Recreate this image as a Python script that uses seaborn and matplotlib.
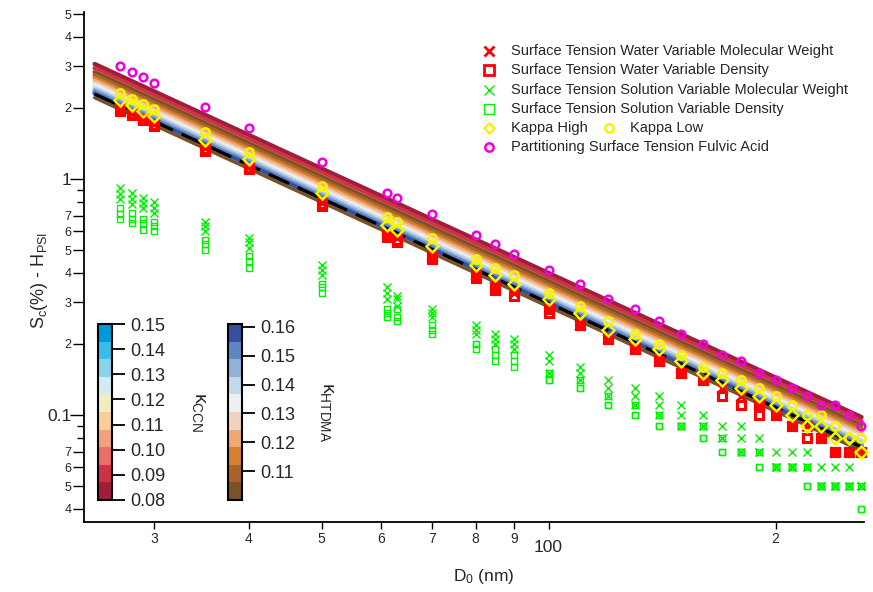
import numpy as np
import pandas as pd
import seaborn as sns
import matplotlib
matplotlib.use("Agg")
import matplotlib.pyplot as plt
from matplotlib.colors import ListedColormap, BoundaryNorm
import matplotlib.cm as cm

# ---------------- data ----------------
D = [27, 28, 29, 30, 35, 40, 50, 61, 63, 70, 80, 85, 90, 100, 110, 120, 130, 140,
     150, 160, 170, 180, 190, 200, 210, 220, 230, 240, 250, 260]

red_x = [1.98, 1.90, 1.81, 1.71, 1.35, 1.12, 0.79, 0.58, 0.56, 0.47, 0.39, 0.35, 0.33,
         0.28, 0.24, 0.21, 0.19, 0.17, 0.15, 0.14, 0.13, 0.12, 0.11, 0.10, 0.09, 0.09,
         0.08, 0.07, 0.07, 0.07]
red_sq_a = [1.97, 1.89, 1.80, 1.70, 1.34, 1.11, 0.78, 0.58, 0.55, 0.47, 0.39, 0.35, 0.32,
            0.28, 0.24, 0.21, 0.19, 0.17, 0.15, 0.14, 0.12, 0.11, 0.11, 0.10, 0.09, 0.08,
            0.08, 0.07, 0.07, 0.07]
red_sq_b = [1.94, 1.86, 1.77, 1.68, 1.32, 1.10, 0.77, 0.57, 0.54, 0.46, 0.38, 0.34, 0.32,
            0.27, 0.24, 0.21, 0.19, 0.17, 0.15, 0.14, 0.12, 0.11, 0.10, 0.10, 0.09, 0.08,
            0.08, 0.07, 0.07, 0.07]

green_x1 = [0.92, 0.87, 0.83, 0.80, 0.66, 0.56, 0.43, 0.35, 0.32, 0.28, 0.24, 0.22, 0.21,
            0.18, 0.16, 0.14, 0.13, 0.12, 0.11, 0.10, 0.09, 0.09, 0.08, 0.07, 0.07, 0.07,
            0.06, 0.06, 0.06, 0.05]
green_x2 = [0.86, 0.82, 0.79, 0.75, 0.63, 0.54, 0.41, 0.33, 0.31, 0.27, 0.23, 0.21, 0.20,
            0.17, 0.15, 0.13, 0.12, 0.11, 0.10, 0.09, 0.08, 0.08, 0.07, 0.06, 0.06, 0.06,
            0.05, 0.05, 0.05, 0.05]
green_x3 = [0.82, 0.78, 0.75, 0.72, 0.60, 0.51, 0.39, 0.31, 0.29, 0.26, 0.22, 0.20, 0.19,
            0.15, 0.14, 0.12, 0.11, 0.10, 0.09, 0.09, 0.08, 0.07, 0.07, 0.06, 0.06, 0.06,
            0.05, 0.05, 0.05, 0.05]
green_sq1 = [0.75, 0.72, 0.68, 0.66, 0.55, 0.47, 0.36, 0.28, 0.28, 0.24, 0.20, 0.19, 0.18,
             0.15, 0.14, 0.12, 0.11, 0.10, 0.09, 0.09, 0.08, 0.07, 0.07, 0.06, 0.06, 0.06,
             0.05, 0.05, 0.05, 0.05]
green_sq2 = [0.71, 0.68, 0.65, 0.63, 0.53, 0.45, 0.35, 0.27, 0.26, 0.23, 0.20, 0.18, 0.17,
             0.14, 0.13, 0.11, 0.10, 0.09, 0.09, 0.08, 0.07, 0.07, 0.06, 0.06, 0.06, 0.05,
             0.05, 0.05, 0.05, 0.04]
green_sq3 = [0.68, 0.65, 0.61, 0.60, 0.50, 0.42, 0.33, 0.26, 0.25, 0.22, 0.19, 0.17, 0.16,
             0.14, 0.13, 0.11, 0.10, 0.09, 0.09, 0.08, 0.07, 0.07, 0.06, 0.06, 0.06, 0.05,
             0.05, 0.05, 0.05, 0.04]

kappa_low = [2.31, 2.18, 2.08, 1.98, 1.58, 1.30, 0.93, 0.69, 0.66, 0.56, 0.46, 0.42, 0.39,
             0.33, 0.29, 0.25, 0.22, 0.20, 0.18, 0.16, 0.15, 0.14, 0.13, 0.12, 0.11, 0.10,
             0.10, 0.09, 0.08, 0.08]
kappa_high = [2.16, 2.06, 1.94, 1.85, 1.46, 1.22, 0.87, 0.64, 0.61, 0.52, 0.43, 0.39, 0.36,
              0.31, 0.27, 0.23, 0.21, 0.19, 0.17, 0.15, 0.14, 0.13, 0.12, 0.11, 0.10, 0.09,
              0.09, 0.08, 0.08, 0.07]
partitioning = [3.02, 2.84, 2.71, 2.55, 2.02, 1.64, 1.18, 0.87, 0.83, 0.71, 0.58, 0.53, 0.48,
                0.41, 0.36, 0.31, 0.28, 0.25, 0.22, 0.20, 0.18, 0.17, 0.15, 0.14, 0.13, 0.12,
                0.11, 0.11, 0.10, 0.09]

# theoretical kappa lines: Sc at the two ends of the diameter range
line_D = [25, 260]
ccn_start = [3.070, 2.949, 2.841, 2.744, 2.656, 2.577, 2.504, 2.437, 2.375, 2.317]
ccn_end = [0.0979, 0.0941, 0.0906, 0.0875, 0.0847, 0.0822, 0.0799, 0.0777, 0.0758, 0.0739]
htdma_start = [2.833, 2.754, 2.681, 2.614, 2.551, 2.493, 2.438, 2.387, 2.340, 2.295]
htdma_end = [0.0904, 0.0879, 0.0855, 0.0834, 0.0814, 0.0795, 0.0778, 0.0761, 0.0746, 0.0732]
mean_line = [2.29, 0.0731]
low_line = [2.21, 0.0705]

ccn_colors = ['#9E1E3C', '#CC3344', '#EC6B6B', '#F3A07F', '#F9CE98',
              '#F2EDC0', '#D4EAF2', '#8CD2EC', '#3ABCED', '#0099DA']
htdma_colors = ['#7B5127', '#A8632B', '#D5802F', '#F0A874', '#F1D2BF',
                '#EEEFF1', '#C3D8EA', '#92B0D8', '#5E86C4', '#34509E']
ccn_ticks = [0.08, 0.09, 0.10, 0.11, 0.12, 0.13, 0.14, 0.15]
htdma_ticks = [0.11, 0.12, 0.13, 0.14, 0.15, 0.16]

legend_labels = ["Surface Tension Water Variable Molecular Weight",
                 "Surface Tension Water Variable Density",
                 "Surface Tension Solution Variable Molecular Weight",
                 "Surface Tension Solution Variable Density",
                 "Kappa High", "Kappa Low",
                 "Partitioning Surface Tension Fulvic Acid"]

# ---------------- style ----------------
sns.set_theme(style="ticks")
plt.rcParams['font.family'] = ['Liberation Sans', 'DejaVu Sans']
plt.rcParams['mathtext.fontset'] = 'custom'
plt.rcParams['mathtext.rm'] = 'Liberation Sans'
plt.rcParams['mathtext.it'] = 'Liberation Sans:italic'
plt.rcParams['mathtext.bf'] = 'Liberation Sans:bold'

W, H = 873, 592
fig = plt.figure(figsize=(W / 100, H / 100), dpi=100)
fig.patch.set_facecolor('white')
axL, axR, axT, axB = 84, 864, 12, 522
ax = fig.add_axes([axL / W, (H - axB) / H, (axR - axL) / W, (axB - axT) / H])
ax.set_facecolor('white')

RED = '#FF0000'
GREEN = '#00F000'
YEL = '#F5F500'
MAG = '#F000E0'

# lines (kappa CCN underneath, kappa HTDMA on top)
for s, e, c in zip(ccn_start, ccn_end, ccn_colors):
    sns.lineplot(x=line_D, y=[s, e], color=c, lw=3.2, ax=ax, zorder=1)
for s, e, c in zip(htdma_start, htdma_end, htdma_colors):
    sns.lineplot(x=line_D, y=[s, e], color=c, lw=2.9, ax=ax, zorder=2)
sns.lineplot(x=line_D, y=low_line, color=htdma_colors[0], lw=2.4, ax=ax, zorder=2)
ax.plot(line_D, mean_line, color='black', lw=2.3, dashes=(7, 3), zorder=3)

# markers
for g in (green_sq1, green_sq2, green_sq3):
    ax.plot(D, g, ls='none', marker='s', ms=5, mfc='none', mec=GREEN, mew=1.0, zorder=4, clip_on=False)
for g in (green_x1, green_x2, green_x3):
    ax.plot(D, g, ls='none', marker='x', ms=5.5, mec=GREEN, mew=1.0, zorder=4, clip_on=False)
for r in (red_sq_a, red_sq_b):
    ax.plot(D, r, ls='none', marker='s', ms=6, mfc='none', mec=RED, mew=2.2, zorder=5, clip_on=False)
ax.plot(D, red_x, ls='none', marker='x', ms=7.5, mec=RED, mew=2.0, zorder=5, clip_on=False)
ax.plot(D, kappa_high, ls='none', marker='D', ms=6.2, mfc='none', mec=YEL, mew=1.8, zorder=6, clip_on=False)
ax.plot(D, kappa_low, ls='none', marker='o', ms=6, mfc='none', mec=YEL, mew=1.8, zorder=6, clip_on=False)
ax.plot(D, partitioning, ls='none', marker='o', ms=5.5, mfc='none', mec=MAG, mew=1.8, zorder=6, clip_on=False)

# axes scales
ax.set_xscale('log')
ax.set_yscale('log')
ax.set_xlim(24.2, 262)
ax.set_ylim(0.0352, 5.1)
for sp in ['top', 'right']:
    ax.spines[sp].set_visible(False)
for sp in ['left', 'bottom']:
    ax.spines[sp].set_linewidth(1.3)
    ax.spines[sp].set_color('black')

narrow = ['Liberation Sans Narrow', 'Liberation Sans', 'DejaVu Sans']

# x ticks
xt = [30, 40, 50, 60, 70, 80, 90, 100, 200]
xl = ['3', '4', '5', '6', '7', '8', '9', '100', '2']
ax.set_xticks(xt)
ax.set_xticklabels(xl)
ax.xaxis.set_minor_locator(matplotlib.ticker.NullLocator())
ax.tick_params(axis='x', which='major', direction='out', length=5, width=1.0, color='black', pad=2)
for t, v in zip(ax.xaxis.get_major_ticks(), xt):
    lab = t.label1
    lab.set_family(narrow)
    if v == 100:
        t.tick1line.set_markersize(10)
        lab.set_fontsize(12.5)
        t.set_pad(8)
    else:
        lab.set_fontsize(10)

# y ticks
yt = [0.04, 0.05, 0.06, 0.07, 0.1, 0.2, 0.3, 0.4, 0.5, 0.6, 0.7, 1, 2, 3, 4, 5]
yl = ['4', '5', '6', '7', '0.1', '2', '3', '4', '5', '6', '7', '1', '2', '3', '4', '5']
ax.set_yticks(yt)
ax.set_yticklabels(yl)
ax.set_yticks([0.08, 0.09, 0.8, 0.9], minor=True)
ax.yaxis.set_minor_formatter(matplotlib.ticker.NullFormatter())
ax.tick_params(axis='y', which='major', direction='out', length=8, width=1.0, color='black', pad=1)
ax.tick_params(axis='y', which='minor', direction='out', length=5, width=1.0, color='black')
for t, v in zip(ax.yaxis.get_major_ticks(), yt):
    lab = t.label1
    lab.set_family(narrow)
    if v in (0.1, 1):
        t.tick1line.set_markersize(10)
        lab.set_fontsize(12.5)
    else:
        lab.set_fontsize(9)
ax.set_xlabel('')
ax.set_ylabel('')

fig.text(40 / W, 1 - 280 / H, r'S$_\mathrm{c}$(%) - H$_\mathrm{PSI}$', rotation=90,
         ha='center', va='center', fontsize=13)
fig.text(484 / W, 1 - 576 / H, r'D$_\mathrm{0}$ (nm)', ha='center', va='center', fontsize=12.5)

# legend (drawn in axes coordinates)
def fx(px):
    return (px - axL) / (axR - axL)

def fy(py):
    return (axB - py) / (axB - axT)

rows = [51, 70, 90, 109, 128, 147]
mk_x, tx_x = fx(489), fx(511)
specs = [dict(marker='x', ms=6.5, mec=RED, mew=2.0),
         dict(marker='s', ms=6.5, mfc='none', mec=RED, mew=2.0),
         dict(marker='x', ms=6.5, mec=GREEN, mew=1.0),
         dict(marker='s', ms=6.5, mfc='none', mec=GREEN, mew=1.0),
         dict(marker='D', ms=5, mfc='none', mec=YEL, mew=1.8)]
for i, sp in enumerate(specs):
    ax.plot([mk_x], [fy(rows[i])], ls='none', transform=ax.transAxes, clip_on=False, **sp)
    ax.text(tx_x, fy(rows[i]), legend_labels[i], transform=ax.transAxes, ha='left',
            va='center', fontsize=10.5)
ax.plot([fx(609)], [fy(rows[4])], ls='none', marker='o', ms=6, mfc='none', mec=YEL, mew=1.8,
        transform=ax.transAxes, clip_on=False)
ax.text(fx(630), fy(rows[4]), legend_labels[5], transform=ax.transAxes, ha='left',
        va='center', fontsize=10.5)
ax.plot([mk_x], [fy(rows[5])], ls='none', marker='o', ms=6, mfc='none', mec=MAG, mew=1.8,
        transform=ax.transAxes, clip_on=False)
ax.text(tx_x, fy(rows[5]), legend_labels[6], transform=ax.transAxes, ha='left',
        va='center', fontsize=10.5)

# colorbars
def make_cbar(x0, colors, vmin, vmax, ticks, label, lab_x):
    cax = fig.add_axes([x0 / W, (H - 500) / H, 14 / W, 176 / H])
    cmap = ListedColormap(colors)
    bounds = np.linspace(vmin, vmax, len(colors) + 1)
    norm = BoundaryNorm(bounds, cmap.N)
    sm = cm.ScalarMappable(norm=norm, cmap=cmap)
    cb = fig.colorbar(sm, cax=cax, orientation='vertical', ticks=ticks, spacing='proportional')
    cb.outline.set_linewidth(1.5)
    cb.outline.set_edgecolor('black')
    cax.tick_params(direction='out', length=9, width=1.3, color='black', pad=4,
                    labelsize=13, right=True, left=False)
    cax.set_yticklabels([f'{t:.2f}' for t in ticks])
    cax.minorticks_off()
    fig.text(lab_x / W, 1 - 412 / H, label, rotation=-90, ha='center', va='center', fontsize=14)
    return cb

make_cbar(98, ccn_colors, 0.08, 0.15, ccn_ticks, r'κ$_\mathrm{CCN}$', 199)
make_cbar(228, htdma_colors, 0.1, 0.161, htdma_ticks, r'κ$_\mathrm{HTDMA}$', 326)

fig.savefig('out.png', dpi=100, facecolor='white')
